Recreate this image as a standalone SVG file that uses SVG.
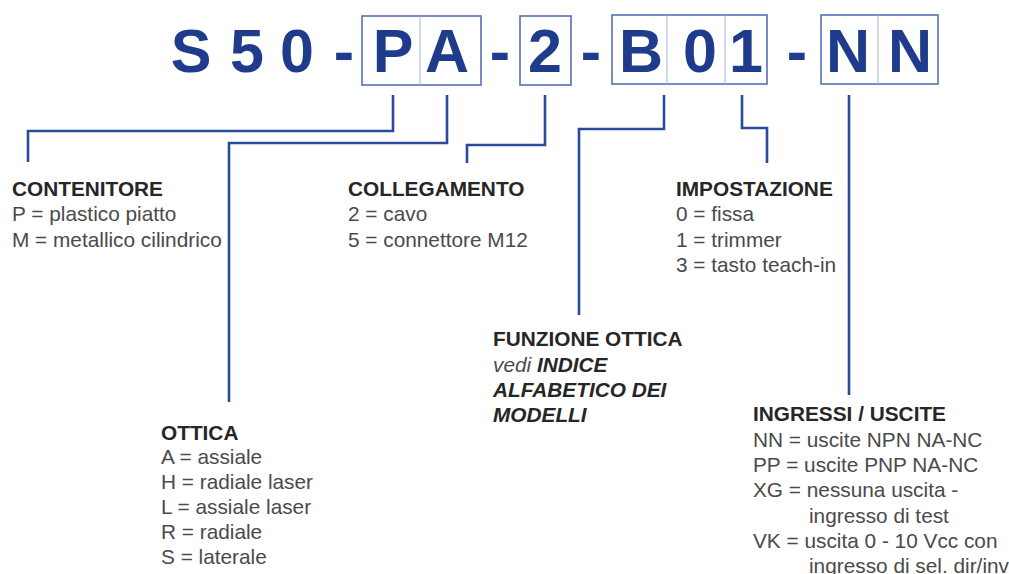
<svg xmlns="http://www.w3.org/2000/svg" width="1009" height="574" viewBox="0 0 1009 574">
<style>
.t{font-family:"Liberation Sans",Arial,sans-serif;font-weight:bold;font-size:61px;fill:#1f3c8c;text-anchor:middle}
.box{fill:none;stroke:#5670b6;stroke-width:1.6}
.div{stroke:#a3b0d6;stroke-width:1}
.c{fill:none;stroke:#2b4a9b;stroke-width:2.6}
.h{font-family:"Liberation Sans",Arial,sans-serif;font-weight:bold;font-size:20.8px;fill:#262626}
.b{font-family:"Liberation Sans",Arial,sans-serif;font-size:20.8px;fill:#4a4a4a}
.bi{font-family:"Liberation Sans",Arial,sans-serif;font-size:20.8px;font-style:italic;font-weight:bold;fill:#262626}
</style>
<rect width="1009" height="574" fill="#ffffff"/>
<g id="code">
<rect class="box" x="362" y="16" width="119" height="69"/>
<line class="div" x1="420" y1="16" x2="420" y2="85"/>
<rect class="box" x="520" y="16" width="51" height="69"/>
<rect class="box" x="612" y="15" width="155" height="69"/>
<line class="div" x1="667" y1="15" x2="667" y2="84"/>
<line class="div" x1="725" y1="15" x2="725" y2="84"/>
<rect class="box" x="821" y="15" width="117" height="69"/>
<line class="div" x1="878" y1="15" x2="878" y2="84"/>
<text class="t" x="191" y="72">S</text>
<text class="t" x="247" y="72">5</text>
<text class="t" x="297" y="72">0</text>
<text class="t" x="344" y="72">-</text>
<text class="t" x="393" y="72">P</text>
<text class="t" x="447" y="72">A</text>
<text class="t" x="500" y="72">-</text>
<text class="t" x="545" y="72">2</text>
<text class="t" x="591" y="72">-</text>
<text class="t" x="641" y="72">B</text>
<text class="t" x="700" y="72">0</text>
<text class="t" x="746" y="72">1</text>
<text class="t" x="797" y="72">-</text>
<text class="t" x="848" y="72">N</text>
<text class="t" x="910" y="72">N</text>
</g>
<g id="connectors">
<path class="c" d="M393,95 V131 H28 V162"/>
<path class="c" d="M447,95 V143 H229 V402"/>
<path class="c" d="M545,95 V145 H467 V163"/>
<path class="c" d="M664,95 V129 H579 V315"/>
<path class="c" d="M742,95 V128 H767 V163"/>
<path class="c" d="M849,95 V395"/>
</g>
<g id="contenitore">
<text class="h" x="12" y="196">CONTENITORE</text>
<text class="b" x="12" y="221">P = plastico piatto</text>
<text class="b" x="12" y="247">M = metallico cilindrico</text>
</g>
<g id="collegamento">
<text class="h" x="348" y="196">COLLEGAMENTO</text>
<text class="b" x="348" y="221">2 = cavo</text>
<text class="b" x="348" y="247">5 = connettore M12</text>
</g>
<g id="impostazione">
<text class="h" x="676" y="196">IMPOSTAZIONE</text>
<text class="b" x="676" y="221">0 = fissa</text>
<text class="b" x="676" y="247">1 = trimmer</text>
<text class="b" x="676" y="272">3 = tasto teach-in</text>
</g>
<g id="funzione">
<text class="h" x="493" y="346">FUNZIONE OTTICA</text>
<text class="b" x="493" y="372"><tspan font-style="italic">vedi </tspan><tspan class="bi">INDICE</tspan></text>
<text class="bi" x="493" y="397">ALFABETICO DEI</text>
<text class="bi" x="493" y="422">MODELLI</text>
</g>
<g id="ottica">
<text class="h" x="161" y="440">OTTICA</text>
<text class="b" x="161" y="464">A = assiale</text>
<text class="b" x="161" y="489">H = radiale laser</text>
<text class="b" x="161" y="514">L = assiale laser</text>
<text class="b" x="161" y="539">R = radiale</text>
<text class="b" x="161" y="564">S = laterale</text>
</g>
<g id="ingressi">
<text class="h" x="753" y="421">INGRESSI / USCITE</text>
<text class="b" x="753" y="447">NN = uscite NPN NA-NC</text>
<text class="b" x="753" y="472">PP = uscite PNP NA-NC</text>
<text class="b" x="753" y="497">XG = nessuna uscita -</text>
<text class="b" x="809" y="523">ingresso di test</text>
<text class="b" x="753" y="548">VK = uscita 0 - 10 Vcc con</text>
<text class="b" x="809" y="573">ingresso di sel. dir/inv</text>
</g>
</svg>
